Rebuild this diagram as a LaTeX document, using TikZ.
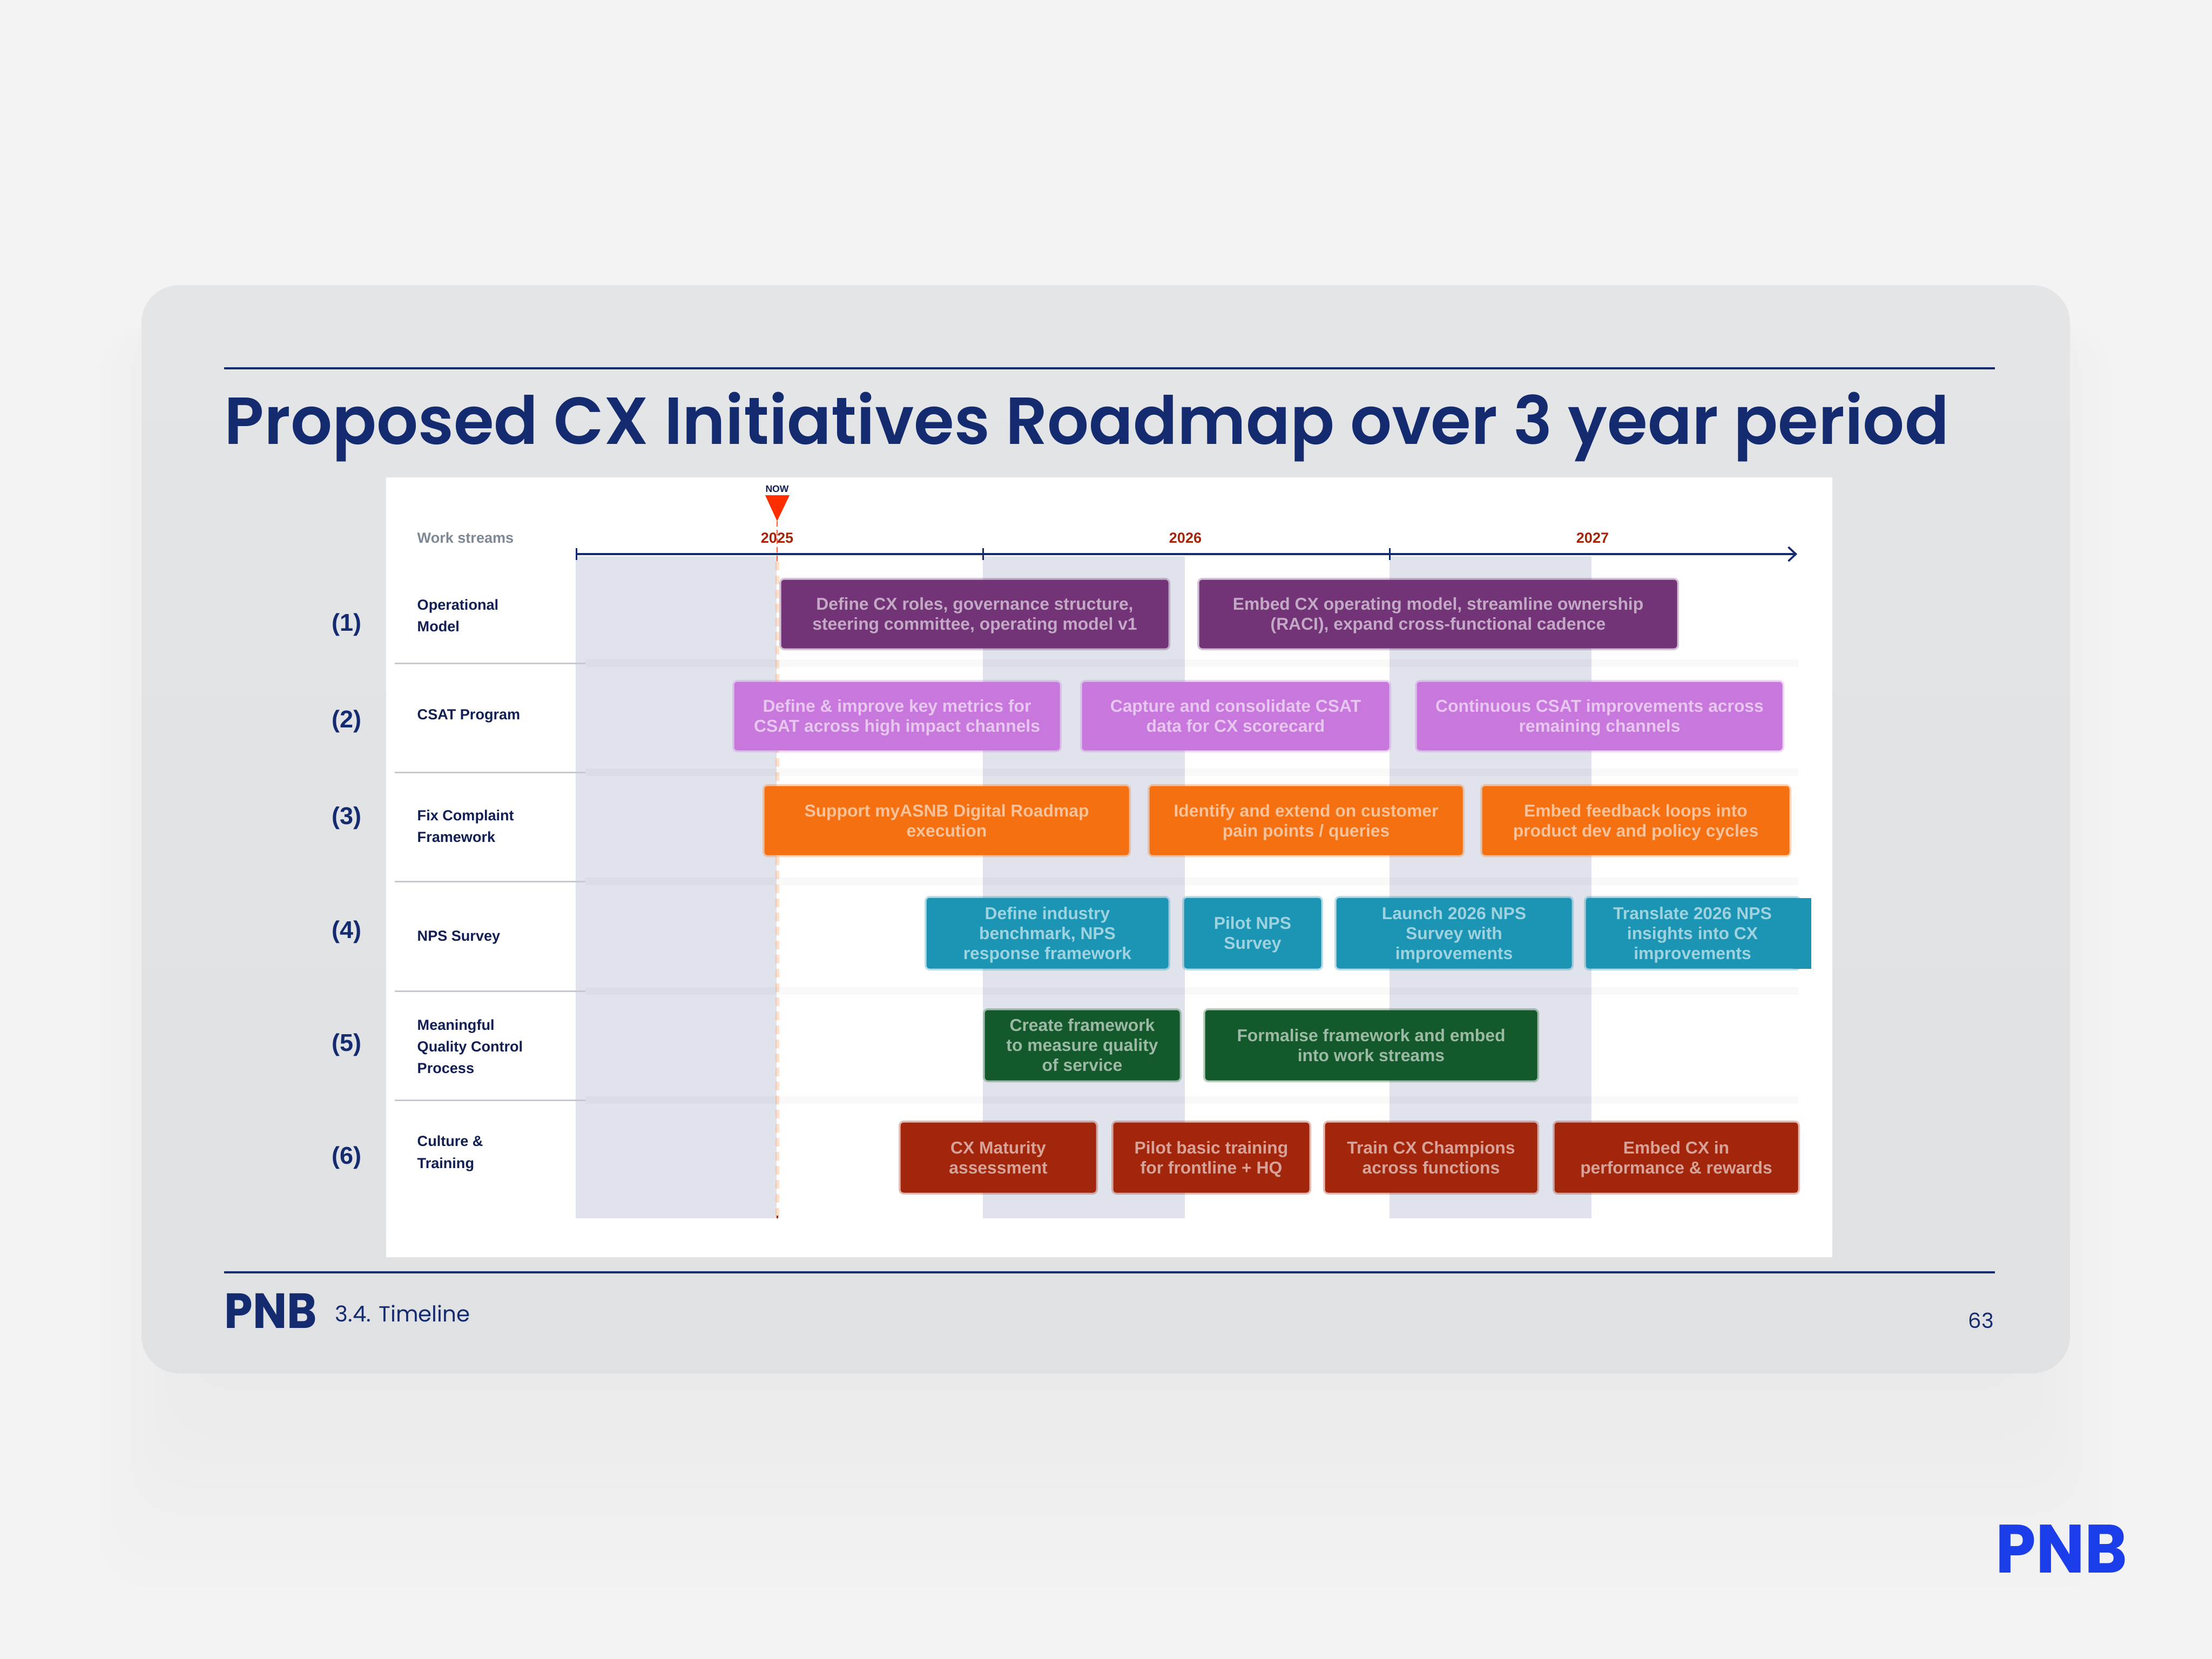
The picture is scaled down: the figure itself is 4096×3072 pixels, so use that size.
\documentclass[tikz,border=0pt]{standalone}
\usepackage{fontspec}
\usepackage{graphicx}
\setmainfont{Liberation Sans}
\newfontfamily\disp{Poppins}
\newfontfamily\dispsb{Poppins SemiBold}
\usetikzlibrary{arrows.meta,calc}
\definecolor{bgc}{HTML}{F3F3F3}
\definecolor{cardtop}{HTML}{E4E5E7}
\definecolor{cardbot}{HTML}{E0E1E3}
\definecolor{navy}{HTML}{142B6F}
\definecolor{ink}{HTML}{111F55}
\definecolor{bandc}{HTML}{E0E3EB}
\definecolor{rulec}{HTML}{C6C8D2}
\definecolor{purplec}{HTML}{723477}
\definecolor{lilacc}{HTML}{C878DC}
\definecolor{orangec}{HTML}{F57010}
\definecolor{tealc}{HTML}{1C95B4}
\definecolor{greenc}{HTML}{14592B}
\definecolor{redc}{HTML}{A2260B}
\definecolor{nowc}{HTML}{FF2E00}
\definecolor{grayc}{HTML}{7C8896}
\definecolor{logoc}{HTML}{1C3EEA}
\tikzset{
  x=0.01cm,y=-0.01cm,
  barbox/.style={fill=#1,draw=#1,draw opacity=.3,line width=0.07cm,rounded corners=0.06cm,
    inner sep=0pt,align=center,text=white,text opacity=.58,
    font=\fontsize{9.05pt}{10.5pt}\selectfont\bfseries},
  streamlabel/.style={anchor=west,align=left,inner sep=0pt,text=ink,
    font=\fontsize{7.7pt}{11.4pt}\selectfont\bfseries},
  numlabel/.style={anchor=west,inner sep=0pt,text=navy,font=\fontsize{12.8pt}{14pt}\selectfont\bfseries},
  yearlabel/.style={inner sep=0pt,text=redc,font=\fontsize{7.7pt}{9pt}\selectfont\bfseries},
  softline/.style={draw=black,draw opacity=.022,line width=0.14cm},
  rowrule/.style={draw=rulec,line width=0.03cm},
  navyrule/.style={draw=navy,line width=0.04cm},
  axisline/.style={draw=navy,line width=0.04cm},
  axistick/.style={draw=navy,line width=0.03cm},
}
\newcommand{\Bar}[7]{\node[barbox=#6,minimum width={(#4-#2-7)*0.01cm},minimum height={(#5-#3-7)*0.01cm}] (#1) at ({(#2+#4)/2},{(#3+#5)/2}) {\raisebox{-3.3pt}[0pt][0pt]{\begin{tabular}{@{}c@{}}#7\end{tabular}}};}
\begin{document}
\begin{tikzpicture}
\useasboundingbox (0,0) rectangle (4096,3072);
\fill[bgc] (0,0) rectangle (4096,3072);
% soft shadow of the card
\foreach \i in {0,...,8}{
  \fill[black,opacity=.004,rounded corners=0.9cm] ({184+\i*20},{600}) rectangle ({3911-\i*20},{2940-\i*46});
}
% card
\shade[top color=cardtop,bottom color=cardbot,rounded corners=0.7cm] (262,528) rectangle (3833,2543);
\coordinate (tr1) at (415,682); \coordinate (tr2) at (3694,682);
\coordinate (br1) at (415,2356); \coordinate (br2) at (3694,2356);
\draw[navyrule] (tr1) -- (tr2);
\draw[navyrule] (br1) -- (br2);
\node[anchor=base west,inner sep=0pt,text=navy] (title) at (415,822)
  {\scalebox{0.9825}[1]{\dispsb\fontsize{35pt}{40pt}\selectfont Proposed CX Initiatives Roadmap over 3 year period}};
% white panel
\fill[white] (715,884) rectangle (3393,2328);
% bands
\fill[bandc] (1066,1030) rectangle (1438,2256);
\fill[bandc] (1820,1030) rectangle (2194,2256);
\fill[bandc] (2573,1030) rectangle (2947,2256);
% row lines
\foreach \y in {1228,1430,1632,1835,2037}{
  \draw[rowrule] (731,\y) -- (1084,\y);
  \draw[softline] (1084,\y) -- (3330,\y);
}
% now line
\coordinate (nowtip) at (1439,965);
\coordinate (nowaxis) at (1439,1040);
\coordinate (nowend) at (1439,2256);
\draw[nowc,opacity=.8,line width=0.02cm,dash pattern=on 0.1cm off 0.06cm] (nowtip) -- (nowaxis);
\draw[orange!80!red,opacity=.2,line width=0.07cm,dash pattern=on 0.16cm off 0.1cm] (nowaxis) -- (nowend);
\draw[redc,line width=0.03cm] (1439,2251) -- (nowend);
\fill[nowc] (1417,917) -- (1462,917) -- (nowtip) -- cycle;
\node[inner sep=0pt,text=ink,font=\fontsize{5pt}{6pt}\selectfont\bfseries] (nowlabel) at (1439,905) {NOW};
% axis
\coordinate (ax0) at (1067,1026);
\coordinate (ax1) at (1820,1026);
\coordinate (ax2) at (2573,1026);
\coordinate (ax3) at (3328,1026);
\draw[axisline,-{Straight Barb[length=0.14cm,width=0.26cm,line width=0.035cm]}] (ax0) -- (ax3);
\foreach \c in {ax0,ax1,ax2}{
  \draw[axistick] ($(\c)+(0,-11)$) -- ($(\c)+(0,11)$);
}
\node[yearlabel] (y25) at (1439,996) {2025};
\node[yearlabel] (y26) at (2195,996) {2026};
\node[yearlabel] (y27) at (2949,996) {2027};
\node[streamlabel,text=grayc] (ws) at (772,996) {Work streams};
% stream labels
\node[streamlabel] (s1) at (772,1140) {Operational\\Model};
\node[streamlabel] (s2) at (772,1326) {CSAT Program};
\node[streamlabel] (s3) at (772,1530) {Fix Complaint\\Framework};
\node[streamlabel] (s4) at (772,1736) {NPS Survey};
\node[streamlabel] (s5) at (772,1938) {Meaningful\\Quality Control\\Process};
\node[streamlabel] (s6) at (772,2136) {Culture \&\\Training};
% numbers
\node[numlabel] (n1) at (614,1157) {(1)};
\node[numlabel] (n2) at (614,1336) {(2)};
\node[numlabel] (n3) at (614,1515) {(3)};
\node[numlabel] (n4) at (614,1726) {(4)};
\node[numlabel] (n5) at (614,1935) {(5)};
\node[numlabel] (n6) at (614,2144) {(6)};
% bars
\Bar{b11}{1443}{1070}{2167}{1204}{purplec}{Define CX roles, governance structure,\\steering committee, operating model v1}
\Bar{b12}{2217}{1070}{3109}{1204}{purplec}{Embed CX operating model, streamline ownership\\(RACI), expand cross-functional cadence}
\Bar{b21}{1356}{1259}{1966}{1393}{lilacc}{Define \& improve key metrics for\\CSAT across high impact channels}
\Bar{b22}{2000}{1259}{2576}{1393}{lilacc}{Capture and consolidate CSAT\\data for CX scorecard}
\Bar{b23}{2620}{1259}{3304}{1393}{lilacc}{Continuous CSAT improvements across\\remaining channels}
\Bar{b31}{1412}{1452}{2094}{1587}{orangec}{Support myASNB Digital Roadmap\\execution}
\Bar{b32}{2125}{1452}{2712}{1587}{orangec}{Identify and extend on customer\\pain points / queries}
\Bar{b33}{2741}{1452}{3317}{1587}{orangec}{Embed feedback loops into\\product dev and policy cycles}
\fill[tealc] (3320,1663) rectangle (3354,1794);
\Bar{b41}{1712}{1659}{2167}{1797}{tealc}{Define industry\\benchmark, NPS\\response framework}
\Bar{b42}{2189}{1659}{2450}{1797}{tealc}{Pilot NPS\\Survey}
\Bar{b43}{2471}{1659}{2914}{1797}{tealc}{Launch 2026 NPS\\Survey with\\improvements}
\Bar{b44}{2933}{1659}{3335}{1797}{tealc}{Translate 2026 NPS\\insights into CX\\improvements}
\Bar{b51}{1820}{1867}{2188}{2004}{greenc}{Create framework\\to measure quality\\of service}
\Bar{b52}{2228}{1867}{2850}{2004}{greenc}{Formalise framework and embed\\into work streams}
\Bar{b61}{1664}{2075}{2033}{2212}{redc}{CX Maturity\\assessment}
\Bar{b62}{2058}{2075}{2428}{2212}{redc}{Pilot basic training\\for frontline + HQ}
\Bar{b63}{2450}{2075}{2850}{2212}{redc}{Train CX Champions\\across functions}
\Bar{b64}{2875}{2075}{3333}{2212}{redc}{Embed CX in\\performance \& rewards}
% footer
\node[anchor=base west,inner sep=0pt,text=navy] (logo1) at (415,2459)
  {\scalebox{0.92}[1]{\disp\fontsize{26pt}{30pt}\selectfont\bfseries PNB}};
\node[anchor=base west,inner sep=0pt,text=navy] (sect) at (620,2447)
  {\disp\fontsize{11.5pt}{15pt}\selectfont 3.4. Timeline};
\node[anchor=base east,inner sep=0pt,text=navy] (page) at (3693,2459)
  {\disp\fontsize{11pt}{14pt}\selectfont 63};
\node[anchor=base west,inner sep=0pt,text=logoc] (logo2) at (3695,2912)
  {\scalebox{0.945}[1]{\disp\fontsize{36pt}{40pt}\selectfont\bfseries PNB}};
\end{tikzpicture}
\end{document}
